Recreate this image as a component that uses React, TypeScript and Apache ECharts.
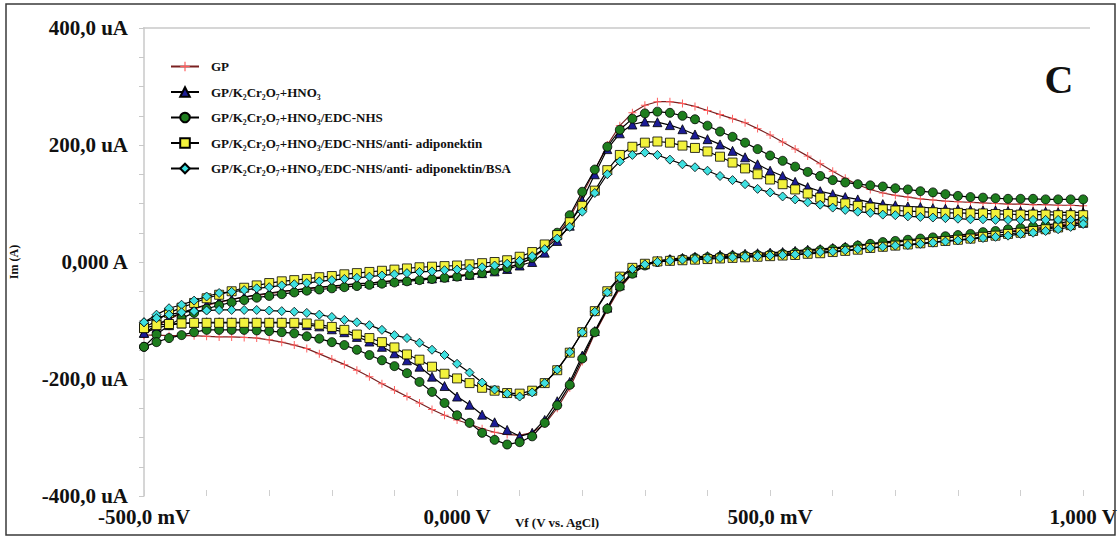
import React, { useEffect, useRef } from "react";
import * as echarts from "echarts";

const potential = [
  -0.5, -0.48, -0.46, -0.44, -0.42, -0.4, -0.38, -0.36, -0.34, -0.32,
  -0.3, -0.28, -0.26, -0.24, -0.22, -0.2, -0.18, -0.16, -0.14, -0.12,
  -0.1, -0.08, -0.06, -0.04, -0.02, 0, 0.02, 0.04, 0.06, 0.08,
  0.1, 0.12, 0.14, 0.16, 0.18, 0.2, 0.22, 0.24, 0.26, 0.28,
  0.3, 0.32, 0.34, 0.36, 0.38, 0.4, 0.42, 0.44, 0.46, 0.48,
  0.5, 0.52, 0.54, 0.56, 0.58, 0.6, 0.62, 0.64, 0.66, 0.68,
  0.7, 0.72, 0.74, 0.76, 0.78, 0.8, 0.82, 0.84, 0.86, 0.88,
  0.9, 0.92, 0.94, 0.96, 0.98, 1.0,
];

// anodic (forward) scans, uA, at each potential
const gpFwd = [
  -125, -110, -98, -88, -80, -74, -69, -64, -60, -57,
  -54, -51, -48, -46, -44, -42, -40, -38, -36, -34,
  -32, -31, -29, -27, -25, -23, -21, -18, -14, -9,
  -3, 6, 22, 45, 76, 115, 157, 200, 233, 255,
  268, 274, 274, 271, 266, 259, 252, 245, 238, 228,
  217, 205, 193, 181, 168, 155, 143, 132, 124, 118,
  114, 111, 108, 106, 104, 103, 102, 101, 100, 99,
  99, 98, 98, 97, 97, 96,
];
const kcrFwd = [
  -121, -108, -96, -87, -79, -73, -68, -64, -60, -56,
  -53, -50, -48, -45, -43, -41, -39, -37, -36, -34,
  -32, -31, -29, -28, -26, -24, -22, -19, -16, -12,
  -6, 0, 16, 36, 62, 105, 150, 193, 220, 235,
  240, 239, 234, 227, 218, 210, 201, 190, 179, 167,
  156, 147, 137, 128, 121, 116, 111, 107, 102, 99,
  97, 95, 94, 92, 91, 90, 89, 88, 88, 87,
  87, 86, 86, 85, 85, 85,
];
const edcFwd = [
  -145, -124, -108, -96, -87, -80, -74, -69, -65, -61,
  -58, -55, -52, -49, -47, -45, -43, -41, -39, -37,
  -35, -33, -31, -29, -27, -25, -22, -19, -15, -10,
  -3, 7, 25, 50, 80, 120, 158, 197, 226, 245,
  254, 257, 255, 250, 244, 233, 223, 214, 204, 193,
  182, 173, 163, 154, 147, 140, 136, 133, 131, 129,
  126, 124, 121, 119, 116, 113, 111, 110, 109, 108,
  108, 108, 107, 107, 107, 107,
];
const antiFwd = [
  -113, -100, -87, -78, -70, -62, -56, -50, -44, -40,
  -36, -33, -31, -29, -26, -24, -21, -19, -17, -15,
  -13, -11, -9, -8, -7, -6, -4, -2, 0, 3,
  9, 17, 30, 46, 68, 96, 122, 157, 183, 197,
  204, 206, 204, 199, 195, 189, 180, 170, 160, 150,
  141, 133, 124, 117, 110, 104, 100, 96, 93, 90,
  88, 87, 86, 85, 84, 84, 83, 83, 82, 82,
  81, 81, 81, 80, 80, 80,
];
const bsaFwd = [
  -103, -90, -79, -73, -66, -59, -53, -51, -48, -45,
  -43, -40, -38, -36, -33, -31, -29, -27, -25, -23,
  -21, -19, -17, -16, -14, -13, -11, -9, -6, -3,
  2, 10, 22, 40, 60, 86, 118, 150, 172, 183,
  187, 183, 175, 167, 162, 156, 147, 140, 133, 125,
  119, 112, 107, 102, 98, 93, 89, 86, 84, 81,
  80, 78, 77, 76, 75, 74, 73, 73, 72, 72,
  72, 72, 72, 72, 72, 72,
];

// cathodic (reverse) scans, uA, listed at each potential in ascending order
const gpRev = [
  -125, -125, -126, -126, -126, -127, -128, -128, -129, -130,
  -133, -137, -142, -148, -157, -166, -175, -185, -196, -208,
  -219, -230, -241, -252, -262, -270, -277, -285, -291, -295,
  -296, -292, -277, -250, -215, -170, -122, -82, -45, -20,
  -6, 1, 4, 6, 8, 9, 11, 12, 13, 14,
  15, 16, 18, 20, 21, 23, 25, 28, 30, 32,
  34, 36, 38, 40, 42, 44, 46, 48, 50, 52,
  55, 57, 60, 63, 66, 70,
];
const kcrRev = [
  -121, -113, -108, -105, -104, -103, -103, -103, -103, -103,
  -103, -103, -105, -108, -110, -115, -120, -128, -136, -145,
  -156, -168, -179, -196, -212, -230, -244, -261, -274, -287,
  -298, -292, -270, -238, -205, -160, -118, -78, -40, -18,
  -4, 2, 5, 7, 9, 10, 12, 13, 14, 15,
  16, 17, 19, 21, 22, 24, 26, 29, 31, 33,
  34, 36, 38, 40, 41, 43, 44, 47, 50, 51,
  53, 55, 58, 61, 64, 67,
];
const edcRev = [
  -145, -137, -130, -125, -120, -116, -116, -116, -116, -117,
  -118, -120, -122, -127, -131, -137, -142, -150, -159, -168,
  -178, -190, -205, -222, -241, -262, -275, -292, -304, -312,
  -308, -298, -275, -245, -210, -165, -120, -80, -42, -20,
  -6, 0, 3, 5, 7, 8, 9, 10, 11, 12,
  13, 14, 16, 18, 20, 22, 24, 28, 31, 34,
  36, 38, 40, 42, 44, 46, 48, 51, 53, 56,
  58, 61, 63, 66, 70, 75,
];
const antiRev = [
  -113, -108, -106, -105, -104, -104, -104, -104, -104, -104,
  -104, -104, -104, -105, -107, -111, -116, -124, -130, -137,
  -146, -158, -167, -179, -191, -199, -207, -215, -220, -224,
  -225, -220, -207, -185, -155, -120, -84, -50, -25, -10,
  -3, 1, 2, 3, 4, 5, 6, 7, 8, 9,
  10, 11, 12, 14, 15, 17, 19, 21, 24, 26,
  28, 30, 32, 34, 36, 38, 40, 43, 45, 48,
  50, 53, 56, 59, 63, 68,
];
const bsaRev = [
  -103, -96, -90, -86, -84, -83, -82, -82, -82, -82,
  -83, -84, -85, -87, -90, -94, -99, -103, -108, -116,
  -125, -130, -138, -150, -159, -174, -189, -206, -218, -225,
  -230, -223, -207, -184, -154, -120, -85, -52, -27, -12,
  -4, 0, 2, 4, 5, 6, 7, 8, 9, 10,
  11, 12, 13, 15, 17, 18, 20, 22, 24, 26,
  28, 29, 31, 33, 35, 37, 39, 41, 43, 45,
  48, 50, 53, 56, 60, 65,
];

const seriesNames = [
  "GP",
  "GP/K₂Cr₂O₇+HNO₃",
  "GP/K₂Cr₂O₇+HNO₃/EDC-NHS",
  "GP/K₂Cr₂O₇+HNO₃/EDC-NHS/anti- adiponektin",
  "GP/K₂Cr₂O₇+HNO₃/EDC-NHS/anti- adiponektin/BSA",
];

const yTickValues = [-400, -200, 0, 200, 400];
const yTickLabels = ["-400,0 uA", "-200,0 uA", "0,000 A", "200,0 uA", "400,0 uA"];
const xTickValues = [-0.5, 0, 0.5, 1.0];
const xTickLabels = ["-500,0 mV", "0,000 V", "500,0 mV", "1,000 V"];

const SERIF = "'Liberation Serif', 'Times New Roman', serif";
const PLUS = "path://M4.4,0H5.6V4.4H10V5.6H5.6V10H4.4V5.6H0V4.4H4.4Z";

function loop(fwd: number[], rev: number[]) {
  const a = potential.map((v, k) => [v, fwd[k]]);
  const b = potential.map((v, k) => [v, rev[k]]).reverse();
  return a.concat(b);
}

export default function App() {
  const ref = useRef<HTMLDivElement>(null);
  useEffect(() => {
    const chart = echarts.init(ref.current!, null, { renderer: "svg" });
    const styles = [
      { symbol: PLUS, size: 8, fill: "#ff5a5a", border: "#ff5a5a", bw: 0, line: "#7a2020" },
      { symbol: "triangle", size: 9, fill: "#1c1c96", border: "#000", bw: 0.8, line: "#000" },
      { symbol: "circle", size: 9, fill: "#1e7d1e", border: "#000", bw: 0.8, line: "#000" },
      { symbol: "rect", size: 9, fill: "#f2f23c", border: "#000", bw: 0.8, line: "#000" },
      { symbol: "diamond", size: 9, fill: "#3ee0e0", border: "#000", bw: 0.8, line: "#000" },
    ];
    const datasets = [
      loop(gpFwd, gpRev),
      loop(kcrFwd, kcrRev),
      loop(edcFwd, edcRev),
      loop(antiFwd, antiRev),
      loop(bsaFwd, bsaRev),
    ];
    chart.setOption({
      animation: false,
      backgroundColor: "#fff",
      textStyle: { fontFamily: SERIF },
      grid: { left: 143, top: 28, width: 943, height: 468, containLabel: false },
      legend: {
        orient: "vertical",
        left: 165,
        top: 55,
        itemWidth: 28,
        itemHeight: 12,
        itemGap: 12.5,
        selectedMode: false,
        data: seriesNames,
        textStyle: {
          fontFamily: SERIF,
          fontWeight: "bold",
          fontSize: 13,
          color: "#111",
          padding: [0, 0, 0, 7],
        },
      },
      xAxis: {
        type: "value",
        min: -0.5,
        max: 1.0,
        interval: 0.5,
        axisLine: { show: false, onZero: false },
        axisTick: { show: true, inside: true, length: 6, lineStyle: { color: "#cfcfcf" } },
        minorTick: { show: true, splitNumber: 5, length: 6, lineStyle: { color: "#cfcfcf" } },
        splitLine: { show: false },
        axisLabel: {
          margin: 10,
          fontFamily: SERIF,
          fontWeight: "bold",
          fontSize: 21,
          color: "#111",
          formatter: (v: number) => {
            const k = xTickValues.findIndex((t) => Math.abs(t - v) < 1e-6);
            return k >= 0 ? xTickLabels[k] : "";
          },
        },
      },
      yAxis: {
        type: "value",
        min: -400,
        max: 400,
        interval: 200,
        name: "Im (A)",
        nameLocation: "middle",
        nameGap: 124,
        nameRotate: 90,
        nameTextStyle: { fontFamily: SERIF, fontWeight: "bold", fontSize: 12, color: "#111" },
        axisLine: { show: true, onZero: false, lineStyle: { color: "#c8c8c8", width: 1.5 } },
        axisTick: { show: true, length: 5, lineStyle: { color: "#c8c8c8" } },
        minorTick: { show: true, splitNumber: 4, length: 5, lineStyle: { color: "#c8c8c8" } },
        splitLine: { show: false },
        axisLabel: {
          margin: 16,
          fontFamily: SERIF,
          fontWeight: "bold",
          fontSize: 21,
          color: "#111",
          formatter: (v: number) => {
            const k = yTickValues.indexOf(v);
            return k >= 0 ? yTickLabels[k] : "";
          },
        },
      },
      graphic: [
        {
          type: "rect",
          shape: { x: 6, y: 4, width: 1109, height: 531 },
          style: { fill: "none", stroke: "#3a3a3a", lineWidth: 1.5 },
          silent: true,
          z: 100,
        },
        {
          type: "line",
          shape: { x1: 143, y1: 28, x2: 1090, y2: 28 },
          style: { stroke: "#c8c8c8", lineWidth: 1.5 },
          silent: true,
        },
        {
          type: "text",
          x: 1059,
          y: 79,
          style: {
            text: "C",
            font: "bold 40px " + SERIF,
            fill: "#111",
            align: "center",
            verticalAlign: "middle",
          },
          silent: true,
        },
        {
          type: "text",
          x: 557,
          y: 522,
          style: {
            text: "Vf (V vs. AgCl)",
            font: "bold 13px " + SERIF,
            fill: "#111",
            align: "center",
            verticalAlign: "middle",
          },
          silent: true,
        },
      ],
      series: datasets.map((d, i) => ({
        name: seriesNames[i],
        type: "line",
        data: d,
        symbol: styles[i].symbol,
        symbolSize: styles[i].size,
        showSymbol: true,
        showAllSymbol: true,
        silent: true,
        itemStyle: {
          color: styles[i].fill,
          borderColor: styles[i].border,
          borderWidth: styles[i].bw,
        },
        lineStyle: { color: styles[i].line, width: 1.2 },
        emphasis: { disabled: true },
        z: 2 + i,
      })),
    });
    return () => chart.dispose();
  }, []);
  return (
    <div
      ref={ref}
      style={{ position: "absolute", left: 0, top: 0, width: 1120, height: 540, background: "#fff" }}
    />
  );
}
